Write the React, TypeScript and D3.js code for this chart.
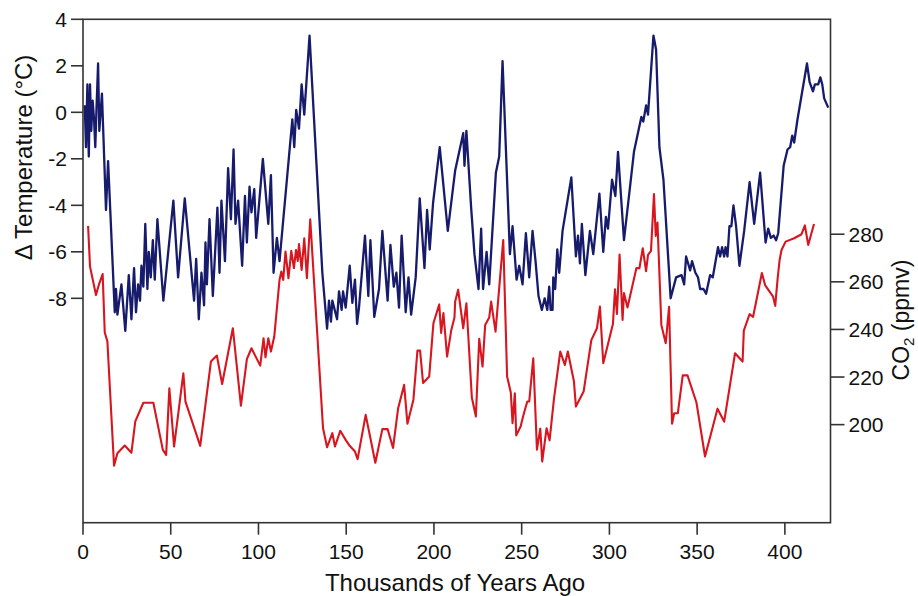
import React from 'react';
import * as d3 from 'd3';

const xTicks = [0, 50, 100, 150, 200, 250, 300, 350, 400];
const tempTicks = [-8, -6, -4, -2, 0, 2, 4];
const co2Ticks = [200, 220, 240, 260, 280];

// [thousands of years ago, delta temperature °C]
const tempSeries: [number, number][] = [
  [1.0,0.3],[1.7,-1.5],[2.5,1.2],[3.3,-1.9],[4.0,1.2],[4.7,-0.8],[5.5,0.5],[6.3,-0.3],[7.0,-1.5],[7.8,0.4],
  [8.6,2.1],[9.3,-0.8],[10.8,0.8],[13.1,-4.2],[14.3,-2.1],[18.1,-8.6],[18.8,-7.6],[19.6,-8.7],[21.9,-7.4],[24.1,-9.4],
  [26.1,-7.0],[27.6,-8.9],[29.1,-6.7],[30.2,-8.6],[31.4,-7.4],[32.5,-8.1],[33.3,-6.6],[34.4,-7.5],[35.5,-4.8],[36.7,-7.6],
  [37.5,-6.0],[38.6,-7.1],[39.8,-5.5],[40.9,-7.2],[42.4,-4.6],[45.8,-8.1],[51.5,-3.8],[54.2,-7.1],[58.0,-3.7],[63.3,-8.1],
  [64.5,-6.3],[66.0,-8.9],[67.5,-6.9],[69.0,-8.3],[69.8,-5.6],[70.6,-7.4],[72.1,-4.6],[74.0,-7.9],[76.6,-4.1],[77.8,-6.9],
  [78.9,-3.8],[80.9,-6.4],[82.7,-2.4],[84.3,-4.6],[85.8,-1.6],[86.9,-4.8],[88.4,-3.8],[90.7,-6.6],[92.3,-3.6],[93.4,-5.6],
  [94.9,-3.2],[96.0,-4.3],[97.6,-3.3],[98.7,-5.4],[102.5,-2.0],[105.6,-4.8],[107.1,-2.7],[108.6,-6.9],[110.5,-5.4],[112.0,-6.4],
  [119.3,-0.3],[120.4,-1.5],[121.5,0.1],[123.1,-0.7],[124.6,1.2],[126.1,-0.1],[129.1,3.3],[136.4,-6.9],[139.1,-9.3],[140.2,-8.1],
  [141.3,-9.0],[142.1,-8.1],[144.8,-8.9],[145.9,-7.7],[147.4,-8.5],[148.2,-7.7],[149.7,-8.4],[152.0,-6.6],[153.5,-8.2],[155.0,-7.2],
  [156.2,-9.1],[157.3,-8.4],[160.7,-5.3],[162.6,-7.9],[163.8,-5.5],[166.0,-8.8],[168.7,-7.6],[170.6,-5.1],[173.6,-8.1],[175.2,-5.7],
  [177.1,-7.5],[178.6,-6.9],[180.1,-8.4],[181.6,-5.3],[183.9,-8.6],[185.5,-7.1],[187.0,-8.7],[189.6,-7.1],[191.9,-3.7],[194.6,-6.7],
  [196.1,-4.2],[197.6,-5.9],[199.5,-3.9],[203.3,-1.5],[207.9,-5.1],[212.1,-2.5],[216.7,-0.9],[217.4,-2.3],[218.5,-0.8],[221.2,-4.1],
  [223.1,-6.1],[225.4,-7.6],[226.9,-5.0],[228.0,-7.6],[230.0,-6.0],[231.5,-7.4],[235.3,-2.6],[237.2,-1.9],[239.1,2.2],[243.3,-6.1],
  [244.8,-4.9],[247.1,-7.2],[248.6,-6.6],[250.5,-7.4],[252.4,-5.2],[254.3,-7.1],[256.2,-5.1],[257.9,-6.4],[259.6,-7.9],[261.5,-8.5],
  [263.1,-8.0],[264.6,-8.5],[265.7,-7.5],[266.5,-8.5],[267.6,-8.5],[268.0,-7.1],[269.1,-7.6],[270.3,-5.9],[271.4,-6.9],[273.3,-5.1],
  [278.3,-2.8],[280.9,-6.2],[282.1,-5.3],[283.2,-6.5],[284.3,-4.8],[286.3,-7.0],[288.9,-5.1],[290.8,-6.1],[294.3,-3.5],[296.5,-6.0],
  [298.0,-4.5],[299.2,-5.0],[301.5,-2.9],[303.4,-3.6],[304.9,-1.7],[308.3,-5.5],[314.0,-1.7],[318.2,-0.2],[319.3,-0.4],[320.9,0.3],
  [322.0,-0.1],[325.1,3.3],[326.6,2.7],[328.5,-1.5],[330.8,-2.9],[334.9,-8.0],[338.0,-7.1],[341.1,-7.0],[342.6,-7.4],[343.7,-6.2],
  [346.0,-6.8],[347.1,-6.4],[349.0,-6.9],[350.5,-7.1],[351.7,-7.6],[353.6,-7.6],[355.1,-7.8],[357.4,-7.0],[358.9,-7.1],[361.9,-5.8],
  [363.1,-6.2],[364.2,-5.8],[365.4,-6.2],[366.2,-5.8],[367.3,-6.2],[368.4,-4.9],[369.5,-4.9],[370.7,-4.0],[372.2,-4.9],[374.1,-6.6],
  [376.8,-5.1],[379.9,-3.0],[382.5,-4.8],[385.9,-2.6],[389.0,-5.6],[390.5,-5.0],[392.0,-5.4],[393.6,-5.3],[395.0,-5.5],[396.2,-5.2],
  [399.3,-2.3],[401.5,-1.6],[403.0,-1.5],[404.2,-1.0],[405.3,-1.3],[407.2,-0.3],[412.6,2.1],[414.1,1.3],[416.0,0.9],[417.1,1.2],
  [419.0,1.2],[420.2,1.5],[421.3,1.2],[422.4,0.6],[424.7,0.2]
];

// [thousands of years ago, CO2 ppmv]
const co2Series: [number, number][] = [
  [2.9,283.5],[4.0,266.4],[7.4,254.5],[9.0,258.7],[11.2,263.3],[12.4,238.7],[13.9,235.0],[17.7,182.7],[19.6,188.0],[23.8,191.2],
  [27.6,188.2],[29.8,201.4],[34.4,209.2],[40.1,209.2],[45.5,189.4],[47.4,187.3],[49.2,215.3],[51.9,190.8],[57.2,221.6],[58.4,209.7],
  [66.8,191.1],[72.9,226.5],[76.3,229.0],[79.3,217.1],[85.4,240.5],[90.0,208.0],[93.4,227.5],[96.0,232.1],[101.0,224.8],[102.9,236.3],
  [104.0,228.3],[105.6,236.3],[107.1,230.7],[109.0,237.0],[112.0,260.8],[113.0,264.3],[114.1,260.8],[115.4,272.7],[117.1,261.5],[118.7,273.0],
  [120.2,265.8],[121.4,273.4],[122.4,268.8],[123.1,275.9],[124.6,265.0],[126.1,278.3],[127.6,261.5],[129.5,286.3],[136.8,198.5],[139.1,190.5],
  [142.1,196.4],[143.6,190.8],[146.6,197.4],[149.7,193.6],[152.0,191.1],[155.0,188.7],[156.5,185.5],[161.1,204.1],[163.8,194.3],[166.6,184.0],
  [170.6,198.1],[173.6,198.1],[176.7,190.2],[179.6,206.9],[183.0,216.7],[184.9,200.4],[188.3,210.5],[190.6,231.1],[192.1,231.1],[193.8,217.5],
  [197.3,220.2],[199.7,242.6],[203.0,250.5],[204.1,238.5],[205.4,246.9],[207.5,228.6],[209.8,239.4],[211.7,245.0],[212.1,251.7],[213.8,256.7],
  [216.7,240.5],[218.5,251.0],[221.6,211.4],[223.9,203.4],[225.8,236.1],[227.7,224.4],[229.2,241.9],[231.5,245.0],[232.6,251.7],[235.1,239.1],
  [239.5,277.6],[241.7,220.2],[243.8,213.5],[244.8,200.6],[246.1,213.2],[246.9,195.5],[249.4,199.2],[250.9,203.7],[253.2,209.7],[254.3,209.7],
  [256.6,227.9],[258.7,189.5],[260.6,198.3],[261.7,184.5],[264.2,198.5],[265.9,193.4],[268.4,210.8],[272.0,230.7],[274.6,225.1],[276.3,230.7],
  [279.8,218.1],[280.9,207.6],[285.3,213.9],[289.7,235.5],[292.9,240.5],[294.6,249.6],[296.5,225.8],[302.0,242.3],[303.2,256.9],[304.3,246.5],
  [305.8,271.5],[307.5,244.0],[308.3,255.3],[310.3,249.2],[315.4,265.8],[317.1,265.7],[319.0,274.1],[320.9,264.5],[322.0,271.3],[323.7,273.0],
  [325.4,296.9],[326.4,279.3],[327.4,284.9],[329.6,241.9],[332.1,234.2],[334.0,249.5],[335.7,200.4],[336.9,204.8],[339.0,204.8],[341.8,220.7],
  [344.5,220.7],[349.6,209.3],[354.5,186.6],[361.6,206.7],[365.4,201.3],[371.6,230.0],[375.9,226.5],[376.6,239.5],[379.9,246.4],[381.9,245.3],
  [386.9,263.7],[388.8,258.5],[393.2,253.9],[394.5,249.9],[395.8,260.8],[397.0,269.2],[398.1,273.4],[400.4,276.9],[405.3,278.3],[409.5,280.0],
  [411.4,283.7],[413.3,275.5],[416.6,284.3]
];

const FONT = "'Liberation Sans', Arial, Helvetica, sans-serif";
const AXIS = '#333333';
const BLUE = '#171b6c';
const RED = '#d7161f';

export default function App() {
  const W = 918, H = 596;
  const left = 83, right = 830.5, top = 19.3, bottom = 522.7;
  const x = d3.scaleLinear().domain([0, 426]).range([left, right]);
  const yT = d3.scaleLinear().domain([4, -17.65]).range([top, bottom]);
  const yC = d3.scaleLinear().domain([370.3, 158.8]).range([top, bottom]);
  const lineT = d3.line<[number, number]>().x(d => x(d[0])).y(d => yT(d[1]));
  const lineC = d3.line<[number, number]>().x(d => x(d[0])).y(d => yC(d[1]));
  const tick = 12;

  return (
    <svg width={W} height={H} viewBox={`0 0 ${W} ${H}`}
      style={{ position: 'absolute', left: 0, top: 0, display: 'block', background: '#fff' }}
      fontFamily={FONT}>
      <rect x={0} y={0} width={W} height={H} fill="#fff" />
      <path d={lineC(co2Series) || ''} fill="none" stroke={RED} strokeWidth={2.1} strokeLinejoin="round" />
      <path d={lineT(tempSeries) || ''} fill="none" stroke={BLUE} strokeWidth={2.3} strokeLinejoin="round" />

      {/* frame */}
      <rect x={left} y={top} width={right - left} height={bottom - top} fill="none" stroke={AXIS} strokeWidth={1.6} />

      {/* left axis */}
      {tempTicks.map(t => (
        <g key={`lt${t}`}>
          <line x1={left - tick} x2={left} y1={yT(t)} y2={yT(t)} stroke={AXIS} strokeWidth={1.6} />
          <text x={left - tick - 4} y={yT(t)} dy="0.36em" textAnchor="end" fontSize={21} fill="#111">{t}</text>
        </g>
      ))}
      <text transform={`translate(32,157.5) rotate(-90)`} textAnchor="middle" fontSize={24} fill="#111">Δ Temperature (°C)</text>

      {/* right axis */}
      {co2Ticks.map(c => (
        <g key={`rt${c}`}>
          <line x1={right} x2={right + tick + 2} y1={yC(c)} y2={yC(c)} stroke={AXIS} strokeWidth={1.6} />
          <text x={right + tick + 6} y={yC(c)} dy="0.36em" textAnchor="start" fontSize={21} fill="#111">{c}</text>
        </g>
      ))}
      <text transform={`translate(909,320) rotate(-90)`} textAnchor="middle" fontSize={23} fill="#111">
        CO<tspan fontSize={15} dy={5}>2</tspan><tspan dy={-5}> (ppmv)</tspan>
      </text>

      {/* bottom axis */}
      {xTicks.map(v => (
        <g key={`bt${v}`}>
          <line x1={x(v)} x2={x(v)} y1={bottom} y2={bottom + tick} stroke={AXIS} strokeWidth={1.6} />
          <text x={x(v)} y={559} textAnchor="middle" fontSize={21} fill="#111">{v}</text>
        </g>
      ))}
      <text x={455} y={591} textAnchor="middle" fontSize={24} fill="#111">Thousands of Years Ago</text>
    </svg>
  );
}
